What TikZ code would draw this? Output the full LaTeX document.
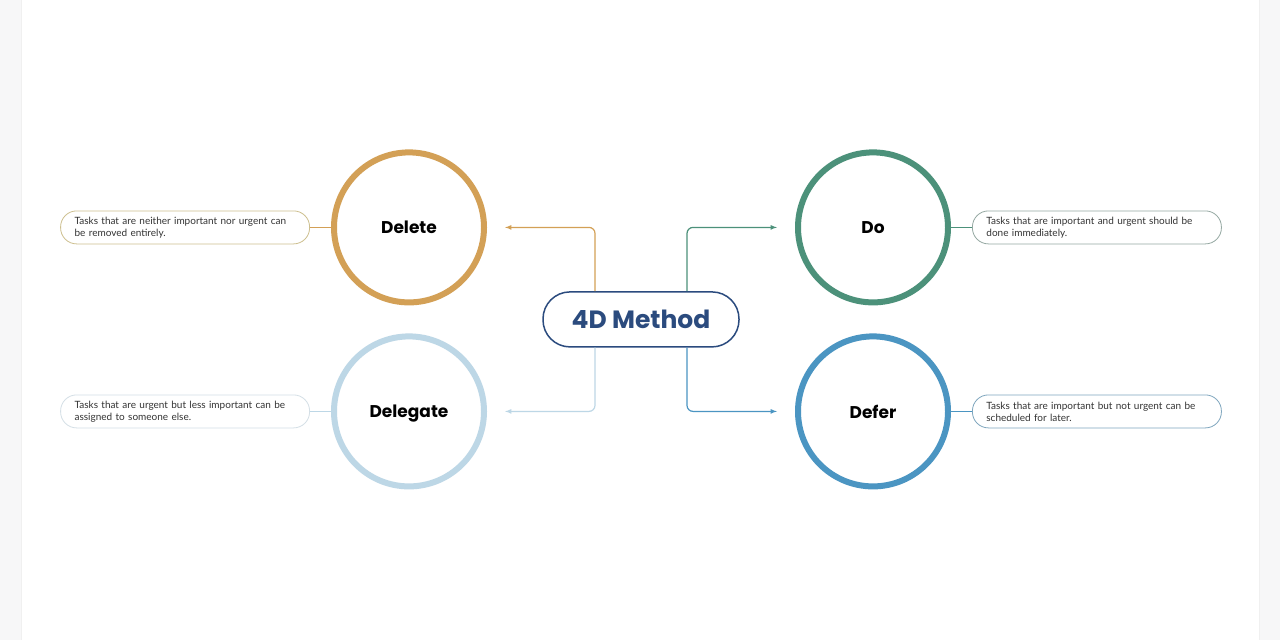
\documentclass[tikz,border=0pt]{standalone}
\usepackage{fontspec}
\setmainfont{Lato}
\newfontfamily\headfont{Poppins}
\usepackage{xcolor}
\usetikzlibrary{shapes,arrows,positioning,calc}

\definecolor{goldc}{HTML}{D3A056}
\definecolor{greenc}{HTML}{4C917A}
\definecolor{paleblue}{HTML}{BDD7E6}
\definecolor{bluec}{HTML}{4B95C2}
\definecolor{navyc}{HTML}{2B4B7E}
\definecolor{goldline}{HTML}{CDBF8E}
\definecolor{greenline}{HTML}{95A8A2}
\definecolor{paleline}{HTML}{D4DFE6}
\definecolor{blueline}{HTML}{7FA6BE}
\definecolor{textc}{HTML}{333333}
\definecolor{pagegray}{HTML}{F7F7F8}

\begin{document}
\begin{tikzpicture}[x=1pt, y=-1pt]
  % Styles
  \tikzstyle{quad} = [circle, minimum size=150pt, inner sep=0pt, line width=6pt, fill=white, text depth=0pt, font=\headfont\fontsize{17}{20}\selectfont\bfseries]
  \tikzstyle{hubbox} = [rectangle, rounded corners=27pt, minimum width=196pt, minimum height=55pt, line width=1.5pt, draw=navyc, fill=white, text=navyc, font=\headfont\fontsize{25}{30}\selectfont\bfseries]
  \tikzstyle{note} = [rectangle, rounded corners=16pt, minimum width=249pt, minimum height=33pt, text width=221pt, align=left, line width=0.8pt, fill=white, text=textc, font=\fontsize{10}{12}\selectfont]
  \tikzstyle{link} = [line width=1.2pt, rounded corners=6pt, ->, >=latex]

  % Page
  \fill[pagegray] (0,0) rectangle (1280,640);
  \fill[white] (21,0) rectangle (1259,640);
  \draw[gray!12, line width=0.8pt] (21,0) -- (21,640);
  \draw[gray!12, line width=0.8pt] (1259,0) -- (1259,640);

  % Central node
  \node[hubbox] (hub) at (641,319) {4D Method};

  % Quadrant circles
  \node[quad, draw=goldc] (del) at (409,227) {Delete};
  \node[quad, draw=greenc] (do) at (873,227) {Do};
  \node[quad, draw=paleblue] (dlg) at (409,411) {Delegate};
  \node[quad, draw=bluec] (dfr) at (873,411) {Defer};

  % Descriptions
  \node[note, draw=goldline, left=21pt of del] (delnote) {Tasks that are neither important nor urgent can be removed entirely.};
  \node[note, draw=greenline, right=21pt of do] (donote) {Tasks that are important and urgent should be done immediately.};
  \node[note, draw=paleline, left=21pt of dlg] (dlgnote) {Tasks that are urgent but less important can be assigned to someone else.};
  \node[note, draw=blueline, right=21pt of dfr] (dfrnote) {Tasks that are important but not urgent can be scheduled for later.};

  % Connection Lines
  \draw[link, draw=goldc] ([xshift=-46pt]hub.north) |- ([xshift=18pt]del.east);
  \draw[link, draw=greenc] ([xshift=46pt]hub.north) |- ([xshift=-18pt]do.west);
  \draw[link, draw=paleblue] ([xshift=-46pt]hub.south) |- ([xshift=18pt]dlg.east);
  \draw[link, draw=bluec] ([xshift=46pt]hub.south) |- ([xshift=-18pt]dfr.west);

  \draw[goldc, line width=1pt] (delnote) -- (del);
  \draw[greenc, line width=1pt] (donote) -- (do);
  \draw[paleblue, line width=1pt] (dlgnote) -- (dlg);
  \draw[bluec, line width=1pt] (dfrnote) -- (dfr);
\end{tikzpicture}
\end{document}
